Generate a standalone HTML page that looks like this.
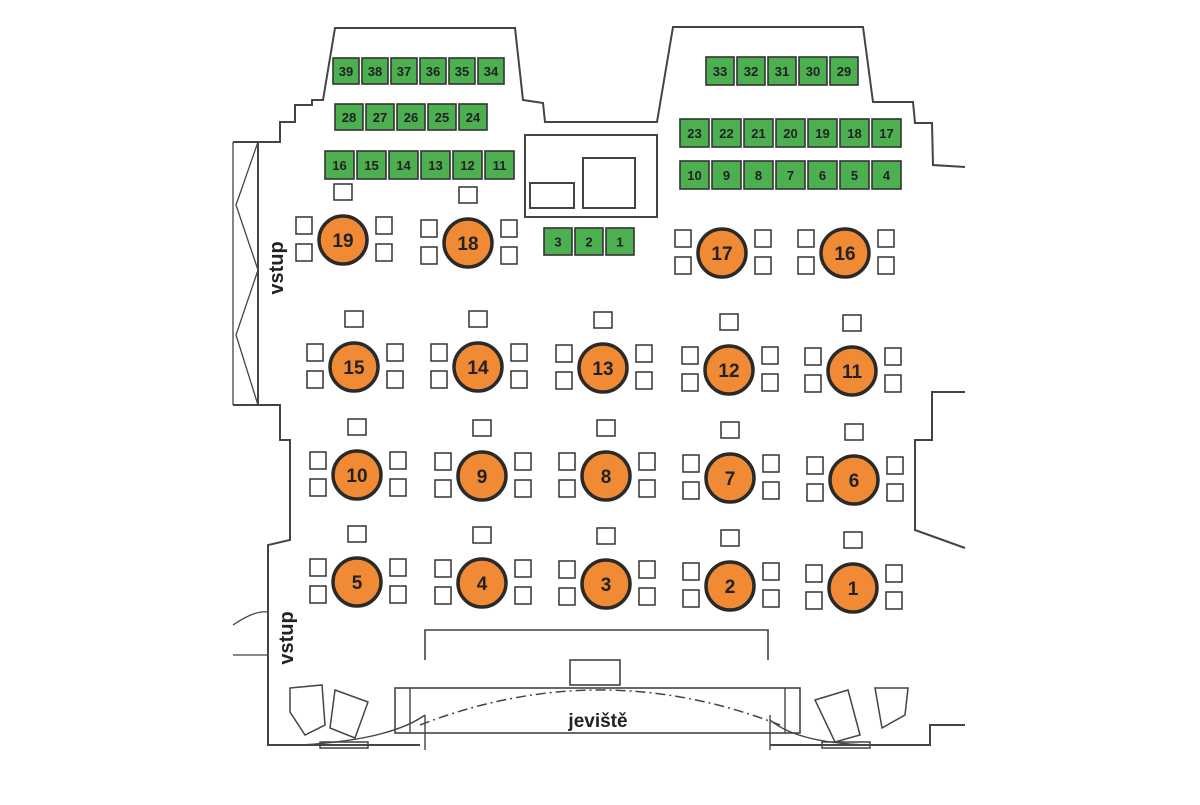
<!DOCTYPE html>
<html><head><meta charset="utf-8"><style>
html,body{margin:0;padding:0;background:#fff;}
svg text{font-family:"Liberation Sans",sans-serif;font-weight:bold;fill:#222;}
</style></head><body>
<svg width="1200" height="800" viewBox="0 0 1200 800" xmlns="http://www.w3.org/2000/svg">
<g fill="none" stroke="#444" stroke-width="2">
<!-- left top outline -->
<polyline points="233,142 258,142 280,142 280,122 295,122 295,105 312,105 312,100 323,100 335,28 515,28 523,100 543,103 545,122 657,122 673,27 863,27 873,102 913,102 915,123 932,123 933,165 965,167"/>
<!-- left entry -->
<line x1="258" y1="142" x2="258" y2="405"/>
<polyline points="258,142 236,205 258,270 236,335 258,405" stroke-width="1.3"/>
<line x1="233" y1="142" x2="233" y2="405" stroke-width="1.3"/>
<polyline points="233,405 280,405 280,440 290,440 290,540 268,545 268,745 420,745"/>
<path d="M233,625 Q255,610 268,612" stroke-width="1.3"/>
<line x1="233" y1="655" x2="268" y2="655" stroke-width="1.3"/>
<!-- right walls -->
<polyline points="965,392 932,392 932,440 915,440 915,530 965,548"/>
<polyline points="965,725 930,725 930,745 770,745"/>
<!-- booth -->
<rect x="525" y="135" width="132" height="82"/>
<rect x="530" y="183" width="44" height="25"/>
<rect x="583" y="158" width="52" height="50"/>
<!-- stage -->
<polyline points="425,660 425,630 768,630 768,660" stroke-width="1.6"/>
<rect x="395" y="688" width="405" height="45" stroke-width="1.6"/>
<line x1="410" y1="688" x2="410" y2="733" stroke-width="1.4"/>
<line x1="785" y1="688" x2="785" y2="733" stroke-width="1.4"/>
<rect x="570" y="660" width="50" height="25" stroke-width="1.6"/>
<path d="M420,725 Q600,655 780,725" stroke-dasharray="10,4,2,4" stroke-width="1.5"/>
<path d="M300,745 Q390,740 425,715" stroke-width="1.4"/>
<path d="M770,720 Q800,745 880,745" stroke-width="1.4"/>
<line x1="425" y1="715" x2="425" y2="750" stroke-width="1.4"/>
<line x1="770" y1="715" x2="770" y2="750" stroke-width="1.4"/>
<!-- speakers -->
<polygon points="290,688 322,685 325,725 305,735 290,712" stroke-width="1.5"/>
<polygon points="335,690 368,702 355,738 330,728" stroke-width="1.5"/>
<polygon points="875,688 908,688 905,715 882,728" stroke-width="1.5"/>
<polygon points="815,700 848,690 860,735 835,742" stroke-width="1.5"/>
<rect x="320" y="742" width="48" height="6" stroke-width="1.5"/>
<rect x="822" y="742" width="48" height="6" stroke-width="1.5"/>
</g>
<text x="0" y="0" font-size="20" transform="translate(283,268) rotate(-90)" text-anchor="middle">vstup</text>
<text x="0" y="0" font-size="20" transform="translate(293,638) rotate(-90)" text-anchor="middle">vstup</text>
<text x="598" y="727" font-size="19" text-anchor="middle">jeviště</text>
<g id="green" stroke="#333" stroke-width="1.6" fill="#4caf50"></g>
<g id="tables"></g>
<script>
var ns="http://www.w3.org/2000/svg";
function el(p,t,a,txt){var e=document.createElementNS(ns,t);for(var k in a)e.setAttribute(k,a[k]);if(txt!==undefined)e.textContent=txt;p.appendChild(e);return e;}
var g=document.getElementById('green');
function row(x0,y,pitch,labels,w,h){labels.forEach(function(l,i){var x=x0+i*pitch;el(g,'rect',{x:x,y:y,width:w,height:h});el(g,'text',{x:x+w/2,y:y+h/2+5,'font-size':13,'text-anchor':'middle',stroke:'none'},l);});}
row(333,58,29,[39,38,37,36,35,34],26,26);
row(335,104,31,[28,27,26,25,24],28,26);
row(325,151,32,[16,15,14,13,12,11],29,28);
row(706,57,31,[33,32,31,30,29],28,28);
row(680,119,32,[23,22,21,20,19,18,17],29,28);
row(680,161,32,[10,9,8,7,6,5,4],29,28);
row(544,228,31,[3,2,1],28,27);
var t=document.getElementById('tables');
function tab(cx,cy,n,top){
 var c={fill:'#fff',stroke:'#333','stroke-width':1.5};
 if(top!==false)el(t,'rect',Object.assign({x:cx-9,y:cy-56,width:18,height:16},c));
 [[cx-47,cy-23],[cx-47,cy+4],[cx+33,cy-23],[cx+33,cy+4]].forEach(function(p){el(t,'rect',Object.assign({x:p[0],y:p[1],width:16,height:17},c));});
 el(t,'circle',{cx:cx,cy:cy,r:24,fill:'#f08a35',stroke:'#2a2a2a','stroke-width':3.5});
 el(t,'text',{x:cx,y:cy+7,'font-size':19,'text-anchor':'middle'},n);
}
tab(343,240,19);tab(468,243,18);tab(722,253,17,false);tab(845,253,16,false);
tab(354,367,15);tab(478,367,14);tab(603,368,13);tab(729,370,12);tab(852,371,11);
tab(357,475,10);tab(482,476,9);tab(606,476,8);tab(730,478,7);tab(854,480,6);
tab(357,582,5);tab(482,583,4);tab(606,584,3);tab(730,586,2);tab(853,588,1);
</script>
</svg>
</body></html>
